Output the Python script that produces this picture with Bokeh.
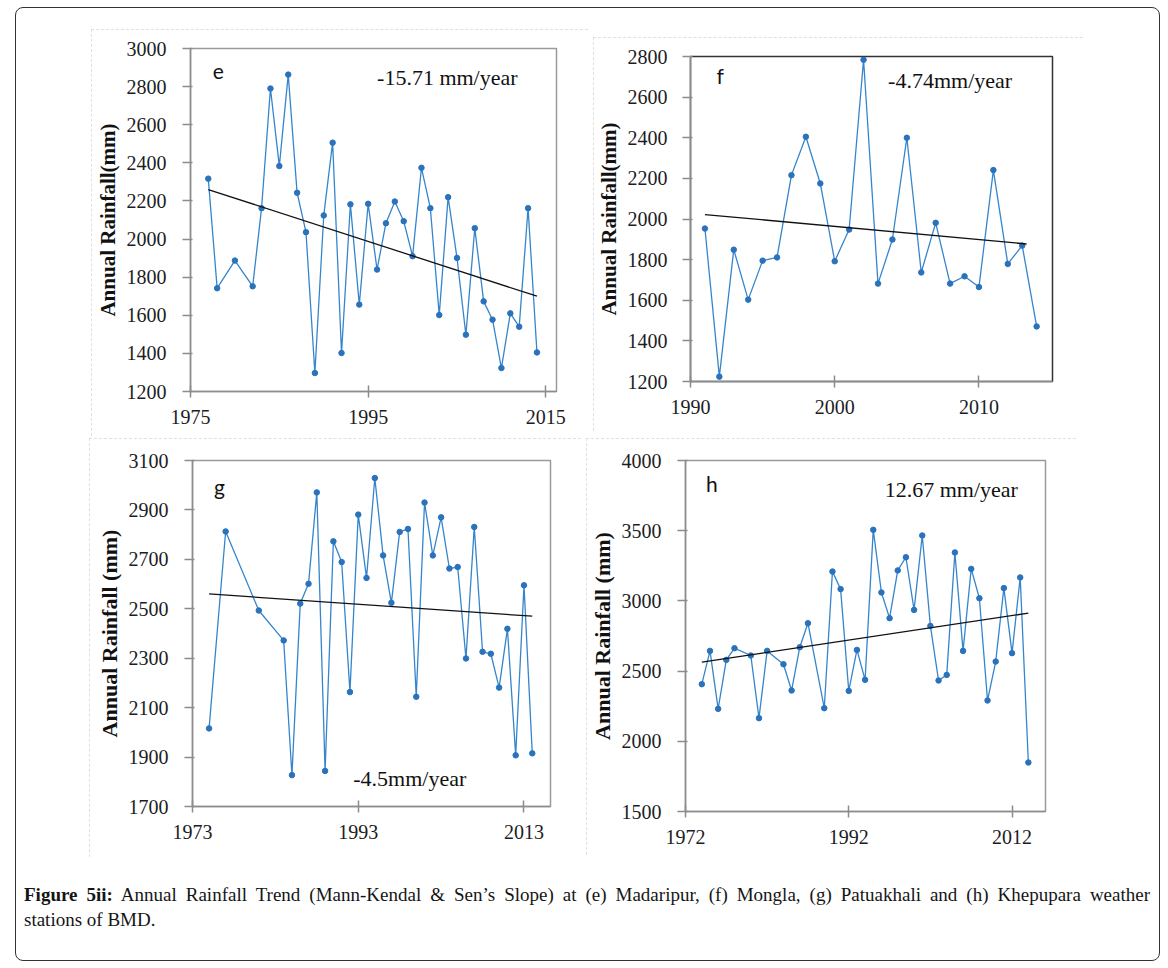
from bokeh.plotting import figure
from bokeh.layouts import column, row
from bokeh.models import Div, Range1d, FixedTicker
from bokeh.core.properties import value
from bokeh.embed import file_html
from bokeh.resources import INLINE

# ---------------- data ----------------
# (e) Madaripur
e_years = [1977, 1978, 1980, 1982] + list(range(1983, 2015))
e_vals = [2317, 1742, 1887, 1752, 2162, 2790, 2383, 2863, 2243, 2036, 1297, 2124,
          2506, 1402, 2182, 1656, 2185, 1840, 2083, 2197, 2094, 1910, 2374, 2162,
          1601, 2220, 1901, 1498, 2057, 1673, 1577, 1323, 1610, 1540, 2162, 1405]
e_trend_x = [1977, 2014]
e_trend_y = [2260, 1700]

# (f) Mongla
f_years = list(range(1991, 2015))
f_vals = [1953, 1224, 1849, 1603, 1795, 1811, 2216, 2405, 2175, 1792, 1948, 2784,
          1682, 1899, 2400, 1737, 1981, 1682, 1718, 1665, 2241, 1779, 1869, 1471]
f_trend_x = [1991, 2013.3]
f_trend_y = [2022, 1877]

# (g) Patuakhali
g_years = [1975, 1977, 1981, 1984] + list(range(1985, 2015))
g_vals = [2016, 2813, 2493, 2372, 1827, 2521, 2601, 2971, 1844, 2773, 2689, 2163,
          2881, 2625, 3029, 2716, 2524, 2811, 2823, 2144, 2930, 2716, 2870, 2663,
          2669, 2299, 2831, 2326, 2318, 2181, 2419, 1907, 2595, 1915]
g_trend_x = [1975, 2014]
g_trend_y = [2560, 2470]

# (h) Khepupara
h_years = [1974, 1975, 1976, 1977, 1978, 1980, 1981, 1982, 1984, 1985, 1986, 1987] + list(range(1989, 2015))
h_vals = [2407, 2644, 2231, 2580, 2663, 2611, 2165, 2644, 2549, 2362, 2670, 2841,
          2236, 3209, 3084, 2359, 2651, 2438, 3506, 3060, 2877, 3217, 3311, 2936,
          3466, 2822, 2433, 2473, 3345, 2644, 3228, 3019, 2291, 2568, 3091, 2628,
          3167, 1849]
h_trend_x = [1974, 2014]
h_trend_y = [2564, 2913]

e_xticks = [1975, 1995, 2015]
f_xticks = [1990, 2000, 2010]
g_xticks = [1973, 1993, 2013]
h_xticks = [1972, 1992, 2012]
e_yticks = list(range(1200, 3001, 200))
f_yticks = list(range(1200, 2801, 200))
g_yticks = list(range(1700, 3101, 200))
h_yticks = list(range(1500, 4001, 500))

slope_labels = ["-15.71 mm/year", "-4.74mm/year", "-4.5mm/year", "12.67 mm/year"]
panel_letters = ["e", "f", "g", "h"]
ylabels = ["Annual Rainfall(mm)", "Annual Rainfall(mm)", "Annual Rainfall (mm)", "Annual Rainfall (mm)"]

BLUE = "#3585cc"
MARK = "#2a72bb"
SERIF = "Liberation Serif"


def panel(years, vals, tx, ty, xr, yr, xticks, yticks, letter, letter_xy, ann, ann_xy,
          ylabel, frame, borders, margin, outline="#9a9a9a", ylab_size="21px", ystand=16):
    fw, fh = frame
    L, R, T, B = borders
    p = figure(frame_width=fw, frame_height=fh, x_range=Range1d(*xr), y_range=Range1d(*yr),
               output_backend="svg", toolbar_location=None,
               min_border_left=L, min_border_right=R, min_border_top=T, min_border_bottom=B,
               margin=margin, styles={"outline": "1px dashed #d6d6d6", "outline-offset": "-1px"})
    p.grid.visible = False
    p.background_fill_color = "white"
    p.border_fill_color = "white"
    p.outline_line_color = outline
    p.outline_line_width = 1.5

    p.xaxis.ticker = FixedTicker(ticks=xticks)
    p.yaxis.ticker = FixedTicker(ticks=yticks)
    for ax in (p.xaxis, p.yaxis):
        ax.axis_line_color = "#8c8c8c"
        ax.axis_line_width = 1.5
        ax.major_tick_line_color = "#8c8c8c"
        ax.major_tick_line_width = 1.5
        ax.minor_tick_line_color = None
        ax.major_label_text_font = SERIF
        ax.major_label_text_font_size = "20px"
        ax.major_label_text_color = "#1c1c24"
    p.xaxis.major_tick_in = 6
    p.xaxis.major_tick_out = 6
    p.xaxis.major_label_standoff = 12
    p.yaxis.major_tick_in = 2
    p.yaxis.major_tick_out = 8
    p.yaxis.major_label_standoff = ystand
    p.yaxis.axis_label = ylabel
    p.yaxis.axis_label_text_font = SERIF
    p.yaxis.axis_label_text_font_style = "bold"
    p.yaxis.axis_label_text_font_size = ylab_size
    p.yaxis.axis_label_text_color = "#111111"
    p.yaxis.axis_label_standoff = 4

    p.line(years, vals, line_color=BLUE, line_width=1.3)
    p.scatter(years, vals, size=5.5, fill_color=MARK, line_color=MARK)
    p.line(tx, ty, line_color="#111111", line_width=1.3)

    p.text(x=[letter_xy[0]], y=[letter_xy[1]], text=[letter], text_font=value("Lato"),
           text_font_size="21px", text_baseline="middle", text_align="left", text_color="#111111")
    p.text(x=[ann_xy[0]], y=[ann_xy[1]], text=[ann], text_font=value(SERIF),
           text_font_size="22px", text_baseline="middle", text_align="left", text_color="#111111")
    return p


pe = panel(e_years, e_vals, e_trend_x, e_trend_y, (1975, 2016.2), (1200, 3000), e_xticks, e_yticks,
           panel_letters[0], (1977.5, 2877), slope_labels[0], (1996.0, 2848), ylabels[0],
           (366, 343), (99, 32, 18, 46), (21, 0, 0, 75))
pf = panel(f_years, f_vals, f_trend_x, f_trend_y, (1990, 2015.1), (1200, 2800), f_xticks, f_yticks,
           panel_letters[1], (1991.8, 2705), slope_labels[1], (2003.7, 2680), ylabels[1],
           (362, 325), (92, 31, 19, 50), (29, 0, 0, 5), outline="#333333", ystand=15)
pg = panel(g_years, g_vals, g_trend_x, g_trend_y, (1973, 2016.2), (1700, 3100), g_xticks, g_yticks,
           panel_letters[2], (1975.6, 2995), slope_labels[2], (1992.4, 1813), ylabels[2],
           (358, 346), (103, 31, 22, 51), (2, 0, 0, 73), ylab_size="22px")
ph = panel(h_years, h_vals, h_trend_x, h_trend_y, (1972, 2016.1), (1500, 4000), h_xticks, h_yticks,
           panel_letters[3], (1974.5, 3839), slope_labels[3], (1996.4, 3791), ylabels[3],
           (360, 351), (98, 31, 20, 46), (2, 0, 0, 5), ylab_size="22px")

cap_style = "font-family:'Liberation Serif',serif;font-size:19px;line-height:25px;color:#151515;"
caption = Div(
    text=('<div style="' + cap_style + 'white-space:nowrap;text-align:justify;'
          'text-align-last:justify;width:1126px;">'
          '<b>Figure 5ii:</b> Annual Rainfall Trend (Mann-Kendal &amp; Sen\u2019s Slope) at (e) Madaripur, '
          '(f) Mongla, (g) Patuakhali and (h) Khepupara weather</div>'
          '<div style="' + cap_style + '">stations of BMD.</div>'),
    width=1126, height=78, margin=(25, 9, 0, 8))

layout = column(row(pe, pf), row(pg, ph), caption,
                styles={"border": "1.5px solid #333333", "border-radius": "8px",
                        "background": "white", "margin-left": "15px", "margin-top": "7px"})

open("out.html", "w").write(file_html(layout, INLINE))
